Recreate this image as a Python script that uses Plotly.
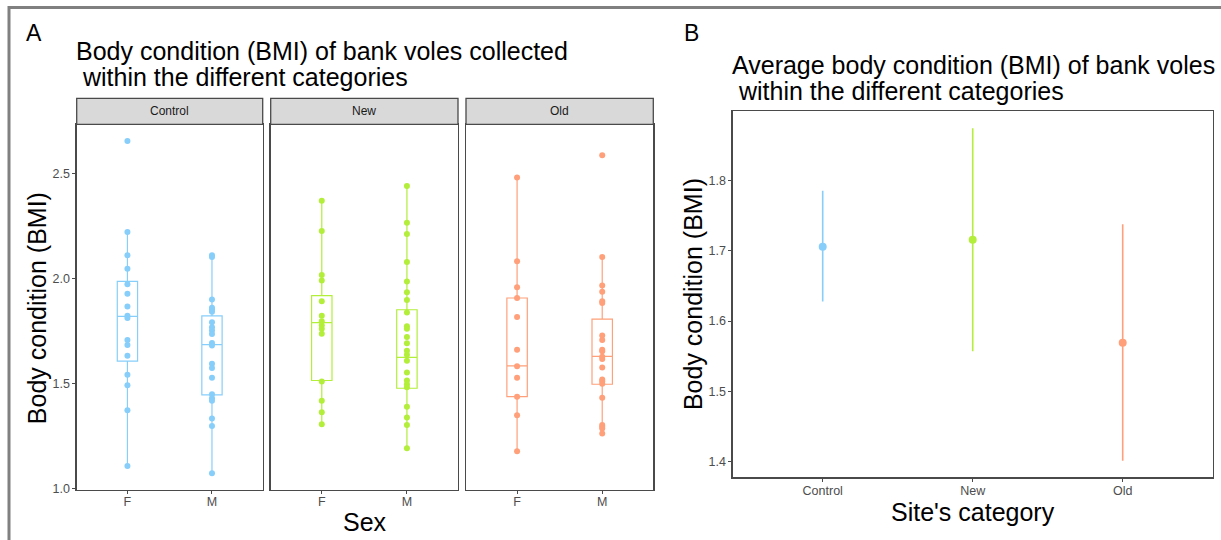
import plotly.graph_objects as go

W, H = 1221, 540
H_FIG = 548  # rendered height; the photographed page is squeezed back to 540

# ---------------- data ----------------
sites = ["Control", "New", "Old"]
sexes = ["F", "M"]
site_colors = ["#87CEFA", "#B3EE3A", "#FFA07A"]

control_F = [2.657, 2.223, 2.113, 2.049, 1.974, 1.929, 1.869, 1.824, 1.814, 1.709,
             1.685, 1.634, 1.543, 1.493, 1.374, 1.109]
control_M = [2.113, 2.105, 1.902, 1.862, 1.854, 1.843, 1.794, 1.770, 1.754, 1.738,
             1.694, 1.683, 1.596, 1.575, 1.529, 1.450, 1.431, 1.419, 1.335, 1.299, 1.074]
new_F = [2.373, 2.228, 2.019, 1.993, 1.893, 1.824, 1.798, 1.779, 1.763, 1.739,
         1.511, 1.419, 1.364, 1.308]
new_M = [2.443, 2.268, 2.214, 2.080, 1.988, 1.937, 1.899, 1.840, 1.774, 1.763,
         1.723, 1.693, 1.658, 1.639, 1.610, 1.554, 1.516, 1.498, 1.484, 1.391,
         1.339, 1.304, 1.193]
old_F = [2.483, 2.084, 1.960, 1.909, 1.819, 1.663, 1.584, 1.529, 1.439, 1.350, 1.179]
old_M = [2.589, 2.105, 1.969, 1.939, 1.893, 1.885, 1.730, 1.709, 1.663, 1.655,
         1.629, 1.618, 1.578, 1.521, 1.512, 1.500, 1.434, 1.304, 1.296, 1.287, 1.263]

# box statistics per site, [F, M]
box_q1 = {"Control": [1.608, 1.447], "New": [1.516, 1.479], "Old": [1.439, 1.498]}
box_median = {"Control": [1.821, 1.687], "New": [1.792, 1.626], "Old": [1.586, 1.631]}
box_q3 = {"Control": [1.988, 1.824], "New": [1.920, 1.853], "Old": [1.909, 1.808]}
box_lower = {"Control": [1.109, 1.074], "New": [1.308, 1.193], "Old": [1.179, 1.263]}
box_upper = {"Control": [2.223, 2.113], "New": [2.373, 2.443], "Old": [2.483, 2.105]}

points = {"Control": [control_F, control_M], "New": [new_F, new_M], "Old": [old_F, old_M]}

# panel B: mean and interval
mean_bmi = [1.706, 1.716, 1.569]
upper_bmi = [1.786, 1.875, 1.738]
lower_bmi = [1.628, 1.557, 1.401]

yticks_A = [1.0, 1.5, 2.0, 2.5]
yticks_B = [1.4, 1.5, 1.6, 1.7, 1.8]

# ---------------- layout helpers ----------------
def px(x):
    return x / W

def py(y):
    return 1 - y / H

FONT = "Liberation Sans, Arial, sans-serif"
TICKC = "#4D4D4D"
LINEC = "#4a4a4a"
TICKSIZE = 12.5
TITLESIZE = 25

fig = go.Figure()

panel_x = [(76.7, 262.7), (270.7, 458.0), (466.0, 653.3)]
A_top, A_bot = 124.0, 488.0
strip_top = 98.0

layout = dict(
    width=W, height=H_FIG, margin=dict(l=0, r=0, t=0, b=0),
    paper_bgcolor="white", plot_bgcolor="white", showlegend=False,
    font=dict(family=FONT, color="black"),
)

shapes = []
annotations = []

for i, site in enumerate(sites):
    xa = "x" if i == 0 else f"x{i+1}"
    ya = "y" if i == 0 else f"y{i+1}"
    col = site_colors[i]
    fig.add_trace(go.Box(
        x=sexes, q1=box_q1[site], median=box_median[site], q3=box_q3[site],
        lowerfence=box_lower[site], upperfence=box_upper[site],
        boxpoints=False, width=0.24, whiskerwidth=0,
        fillcolor="rgba(0,0,0,0)", line=dict(color=col, width=1.2),
        xaxis=xa, yaxis=ya, hoverinfo="skip",
    ))
    for j, sx in enumerate(sexes):
        vals = points[site][j]
        fig.add_trace(go.Scatter(
            x=[sx] * len(vals), y=vals, mode="markers",
            marker=dict(color=col, size=6, line=dict(width=0)),
            xaxis=xa, yaxis=ya, hoverinfo="skip",
        ))
    x0, x1 = panel_x[i]
    kx = "xaxis" if i == 0 else f"xaxis{i+1}"
    ky = "yaxis" if i == 0 else f"yaxis{i+1}"
    layout[kx] = dict(
        domain=[px(x0), px(x1)], anchor=ya, type="category",
        categoryorder="array", categoryarray=sexes, range=[-0.6, 1.6],
        showline=True, mirror=True, linecolor=LINEC, linewidth=1.3,
        ticks="outside", ticklen=3, tickcolor=LINEC, tickwidth=1,
        ticklabelstandoff=-3,
        tickfont=dict(size=TICKSIZE, color=TICKC, family=FONT),
        showgrid=False, zeroline=False, fixedrange=True,
    )
    layout[ky] = dict(
        domain=[py(A_bot), py(A_top)], anchor=xa, range=[0.995, 2.736],
        tickvals=yticks_A, tickformat=".1f",
        showline=True, mirror=True, linecolor=LINEC, linewidth=1.3,
        ticks="outside" if i == 0 else "", ticklen=3, tickcolor=LINEC, tickwidth=1,
        showticklabels=(i == 0),
        tickfont=dict(size=TICKSIZE, color=TICKC, family=FONT),
        showgrid=False, zeroline=False, fixedrange=True,
    )
    # strip
    shapes.append(dict(type="rect", xref="paper", yref="paper",
                       x0=px(x0), x1=px(x1), y0=py(A_top), y1=py(strip_top),
                       fillcolor="#D9D9D9", line=dict(color=LINEC, width=1.3), layer="above"))
    annotations.append(dict(text=site, xref="paper", yref="paper",
                            x=px((x0 + x1) / 2), y=py((A_top + strip_top) / 2),
                            showarrow=False, xanchor="center", yanchor="middle",
                            font=dict(size=12, color="#1A1A1A", family=FONT)))

# ---------------- panel B ----------------
for i, site in enumerate(sites):
    fig.add_trace(go.Scatter(
        x=[site, site], y=[lower_bmi[i], upper_bmi[i]], mode="lines",
        line=dict(color=site_colors[i], width=1.6),
        xaxis="x4", yaxis="y4", hoverinfo="skip",
    ))
fig.add_trace(go.Scatter(
    x=sites, y=mean_bmi, mode="markers",
    marker=dict(color=site_colors, size=8, line=dict(width=0)),
    xaxis="x4", yaxis="y4", hoverinfo="skip",
))

B_x0, B_x1 = 732.7, 1212.7
B_top, B_bot = 111.0, 475.7
layout["xaxis4"] = dict(
    domain=[px(B_x0), px(B_x1)], anchor="y4", type="category",
    categoryorder="array", categoryarray=sites, range=[-0.6, 2.6],
    showline=True, mirror=True, linecolor=LINEC, linewidth=1.3,
    ticks="outside", ticklen=3, tickcolor=LINEC, tickwidth=1,
    ticklabelstandoff=-2,
    tickfont=dict(size=TICKSIZE, color=TICKC, family=FONT),
    showgrid=False, zeroline=False, fixedrange=True,
)
layout["yaxis4"] = dict(
    domain=[py(B_bot), py(B_top)], anchor="x4", range=[1.377, 1.899],
    tickvals=yticks_B, tickformat=".1f",
    showline=True, mirror=True, linecolor=LINEC, linewidth=1.3,
    ticks="outside", ticklen=3, tickcolor=LINEC, tickwidth=1,
    tickfont=dict(size=TICKSIZE, color=TICKC, family=FONT),
    showgrid=False, zeroline=False, fixedrange=True,
)

# ---------------- text ----------------
def txt(s, x, y, size, xanchor="left", angle=0, yanchor="middle"):
    annotations.append(dict(text=s, xref="paper", yref="paper", x=px(x), y=py(y),
                            showarrow=False, xanchor=xanchor, yanchor=yanchor,
                            textangle=angle, font=dict(size=size, color="black", family=FONT)))

txt("A", 24, 33, 23)
txt("B", 682, 33, 23)
txt("Body condition (BMI) of bank voles collected", 74, 51, TITLESIZE)
txt(" within the different categories", 74, 77, TITLESIZE)
txt("Average body condition (BMI) of bank voles", 730, 65, TITLESIZE)
txt(" within the different categories", 730, 91, TITLESIZE)
txt("Sex", 365, 520, TITLESIZE, xanchor="center")
txt("Site's category", 973, 510, TITLESIZE, xanchor="center")
txt("Body condition (BMI)", 37, 307, TITLESIZE, xanchor="center", angle=-90)
txt("Body condition (BMI)", 693, 293, TITLESIZE, xanchor="center", angle=-90)

# outer frame lines (top and left)
shapes.append(dict(type="line", xref="paper", yref="paper", x0=px(8), x1=1, y0=py(7.5), y1=py(7.5),
                   line=dict(color="#808080", width=3)))
shapes.append(dict(type="line", xref="paper", yref="paper", x0=px(9), x1=px(9), y0=py(6), y1=0,
                   line=dict(color="#808080", width=3)))

layout["shapes"] = shapes
layout["annotations"] = annotations
fig.update_layout(**layout)

page_fix = (
    "document.documentElement.style.margin='0px';"
    "document.body.style.margin='0px';"
    "document.body.style.padding='0px';"
)
fig.write_html("out.html", config={"displayModeBar": False, "staticPlot": True},
               post_script=page_fix)
